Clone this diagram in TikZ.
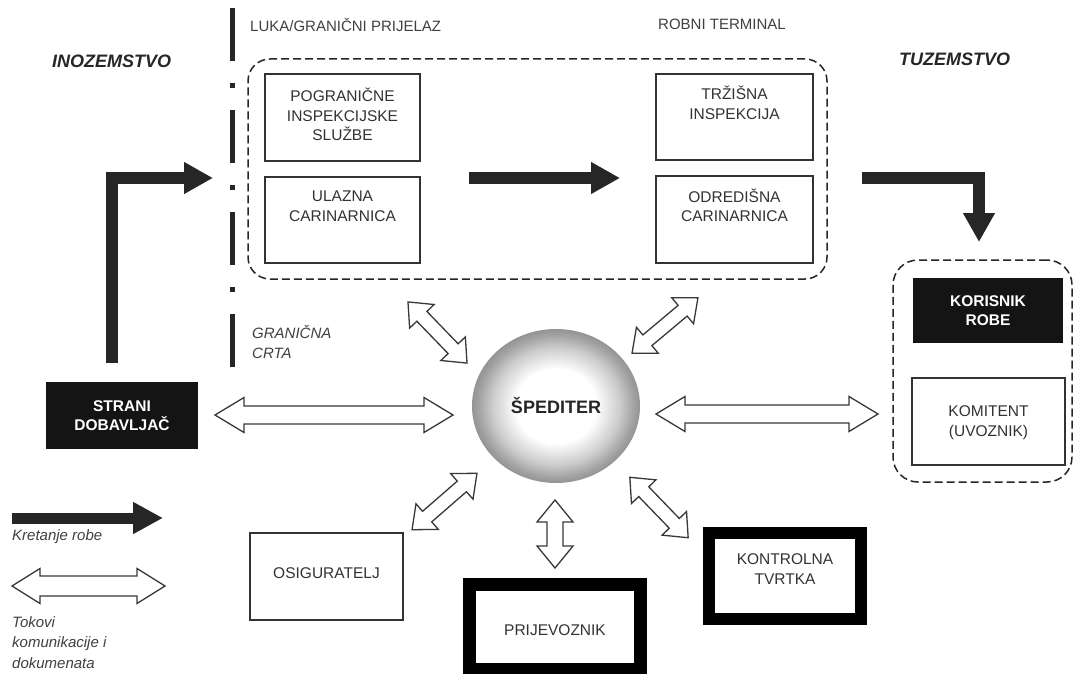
\documentclass[tikz,border=0pt]{standalone}
\usepackage{fontspec}
\setmainfont{Liberation Sans}
\usetikzlibrary{arrows.meta,shapes.geometric}
\pgfdeclareradialshading{spherefill}{\pgfpoint{0bp}{0bp}}{color(0bp)=(white); color(12bp)=(white); color(19bp)=(black!20); color(23bp)=(black!36); color(25bp)=(black!42); color(50bp)=(black!42)}
\tikzset{
  txt/.style={font=\fontsize{15.5}{19.5}\selectfont, align=center, text=black!80, inner sep=0pt},
  lbl/.style={font=\fontsize{15}{20.5}\selectfont, align=left, text=black!75, inner sep=0pt, anchor=west},
  region/.style={font=\fontsize{18}{22}\selectfont\bfseries\itshape, text=black!85, inner sep=0pt, anchor=west},
  box/.style={draw=black!80, line width=1.6pt, rectangle, inner sep=0pt},
  darkbox/.style={fill=black!92, rectangle, inner sep=0pt, text=white, font=\fontsize{15.5}{19.5}\selectfont\bfseries, align=center},
  heavybox/.style={draw=black, line width=12.5pt, rectangle, inner sep=0pt},
  group/.style={draw=black!85, line width=1.5pt, dash pattern=on 8pt off 4pt, rectangle, inner sep=0pt},
  goods/.style={draw=black!85, line width=12.5pt, line join=miter, -{Triangle[length=29pt,width=30pt]}},
  hollow/.style={draw=black!78, line width=1.3pt, fill=white, line join=miter},
  pics/dbl/.style n args={4}{code={
    \draw[hollow] ({-#1/2},0) -- ({-#1/2+#4},#3) -- ({-#1/2+#4},#2) -- ({#1/2-#4},#2) -- ({#1/2-#4},#3) -- ({#1/2},0)
      -- ({#1/2-#4},-#3) -- ({#1/2-#4},-#2) -- ({-#1/2+#4},-#2) -- ({-#1/2+#4},-#3) -- cycle;
  }}
}
\begin{document}
\begin{tikzpicture}[x=1pt,y=-1pt]
\useasboundingbox[fill=white] (0,0) rectangle (1076,674);

% border line (dash-dot)
\coordinate (borderTop) at (232,8);
\coordinate (borderBot) at (232,367);
\draw[line width=5pt, draw=black!85, dash pattern=on 53pt off 22pt on 5pt off 22pt] (borderTop) -- (borderBot);

% headings
\node[lbl] (luka) at (250,25) {LUKA/GRANIČNI PRIJELAZ};
\node[lbl] (robni) at (658,24) {ROBNI TERMINAL};
\node[region] (ino) at (52,61) {INOZEMSTVO};
\node[region] (tuz) at (899,59) {TUZEMSTVO};
\node[lbl, font=\fontsize{15}{20}\selectfont\itshape] (crta) at (252,342) {GRANIČNA\\CRTA};

% dashed groups
\node[group, rounded corners=22pt, minimum width=579pt, minimum height=220pt] (terminal) at (537.5,169) {};
\node[group, rounded corners=25pt, minimum width=179pt, minimum height=222pt] (domestic) at (982.5,371) {};

% boxes in terminal
\node[box, minimum width=155pt, minimum height=87pt] (pogr) at (342.5,117.5) {};
\node[txt] at (342.5,114.5) {POGRANIČNE\\INSPEKCIJSKE\\SLUŽBE};
\node[box, minimum width=155pt, minimum height=86pt] (ulaz) at (342.5,220) {};
\node[txt] at (342.5,206) {ULAZNA\\CARINARNICA};
\node[box, minimum width=157pt, minimum height=86pt] (trz) at (734.5,117) {};
\node[txt] at (734.5,103) {TRŽIŠNA\\INSPEKCIJA};
\node[box, minimum width=157pt, minimum height=87pt] (odr) at (734.5,219.5) {};
\node[txt] at (734.5,205.5) {ODREDIŠNA\\CARINARNICA};

% domestic side
\node[darkbox, minimum width=150pt, minimum height=65pt] (kor) at (988,310.5) {KORISNIK\\ROBE};
\node[box, minimum width=153pt, minimum height=87pt] (kom) at (988.5,421.5) {};
\node[txt] at (988.5,422.5) {KOMITENT\\(UVOZNIK)};

% foreign supplier
\node[darkbox, minimum width=152pt, minimum height=67pt] (strani) at (122,415.5) {STRANI\\DOBAVLJAČ};

% lower boxes
\node[box, minimum width=153pt, minimum height=87pt] (osig) at (326.5,576.5) {};
\node[txt] at (326.5,573) {OSIGURATELJ};
\node[heavybox, minimum width=171pt, minimum height=85pt] (prij) at (555,627) {};
\node[txt] at (555,630) {PRIJEVOZNIK};
\node[heavybox, minimum width=152pt, minimum height=86pt] (kontr) at (785,576) {};
\node[txt] at (785,569) {KONTROLNA\\TVRTKA};

% spediter
\node[ellipse, shading=spherefill, minimum width=168pt, minimum height=154pt, inner sep=0pt,
      font=\fontsize{18}{22}\selectfont\bfseries, text=black!85] (sped) at (556,406) {ŠPEDITER};

% goods flow arrows
\coordinate (goodsA) at (112,363);
\coordinate (goodsB) at (213,178);
\draw[goods] (goodsA) |- (goodsB);
\coordinate (goodsC) at (469,178);
\coordinate (goodsD) at (620,178);
\draw[goods] (goodsC) -- (goodsD);
\coordinate (goodsE) at (862,178);
\coordinate (goodsF) at (979,242);
\draw[goods] (goodsE) -| (goodsF);

% communication arrows
\pic at (334,415) {dbl={238}{9}{17.5}{29}};
\pic at (767,414) {dbl={222}{9}{17.5}{29}};
\pic[rotate=90] at (555,534) {dbl={68}{8}{18}{22}};
\pic[rotate=-46] at (437.5,332.5) {dbl={85}{7}{17}{20}};
\pic[rotate=40] at (665,325.5) {dbl={86}{7}{17}{20}};
\pic[rotate=41] at (444.5,501.5) {dbl={86}{7}{17}{20}};
\pic[rotate=-46] at (659,507.5) {dbl={84}{7}{17}{20}};

% legend
\coordinate (legA) at (12,518);
\coordinate (legB) at (163,518);
\draw[goods, line width=11pt, -{Triangle[length=30pt,width=30pt]}] (legA) -- (legB);
\node[lbl, font=\fontsize{15}{20}\selectfont\itshape] (kret) at (12,537) {Kretanje robe};
\pic at (88.5,586) {dbl={153}{10}{17.5}{28}};
\node[lbl, font=\fontsize{15}{20.5}\selectfont\itshape] (tok) at (12,642.5) {Tokovi\\komunikacije i\\dokumenata};
\end{tikzpicture}
\end{document}
